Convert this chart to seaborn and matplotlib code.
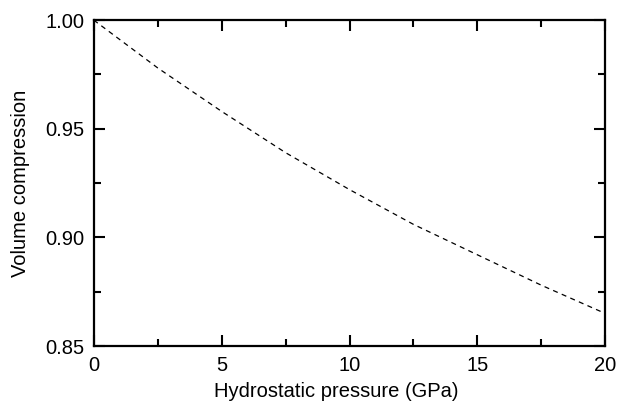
import matplotlib
matplotlib.use("Agg")
import matplotlib.pyplot as plt
from matplotlib.ticker import MultipleLocator, FormatStrFormatter
import seaborn as sns
import pandas as pd

pressure = [0, 2.5, 5, 7.5, 10, 12.5, 15, 17.5, 20]
compression = [1.000, 0.978, 0.958, 0.939, 0.922, 0.906, 0.892, 0.878, 0.865]

df = pd.DataFrame({"p": pressure, "v": compression})

sns.set_theme(style="ticks")
plt.rcParams['font.family'] = ['Liberation Sans', 'DejaVu Sans']

fig = plt.figure(figsize=(6.17, 4.11), dpi=100)
ax = fig.add_axes([0.152, 0.158, 0.829, 0.793])
sns.lineplot(data=df, x="p", y="v", ax=ax, color="black", linewidth=0.9,
             linestyle=(0, (4, 3.5)))

ax.set_xlim(0, 20)
ax.set_ylim(0.85, 1.00)
ax.xaxis.set_major_locator(MultipleLocator(5))
ax.xaxis.set_minor_locator(MultipleLocator(2.5))
ax.yaxis.set_major_locator(MultipleLocator(0.05))
ax.yaxis.set_minor_locator(MultipleLocator(0.025))
ax.yaxis.set_major_formatter(FormatStrFormatter('%.2f'))
ax.tick_params(which='both', direction='in', top=True, right=True, width=1.5,
               colors='black', labelsize=14.5, pad=7)
ax.tick_params(which='major', length=8)
ax.tick_params(which='minor', length=5)
for s in ax.spines.values():
    s.set_linewidth(1.6)
    s.set_color('black')
    s.set_visible(True)
ax.set_xlabel("Hydrostatic pressure (GPa)", fontsize=14.5, color='black',
              labelpad=5, x=0.474)
ax.set_ylabel("Volume compression", fontsize=14.5, color='black', labelpad=11)
fig.savefig("out.png", dpi=100)
